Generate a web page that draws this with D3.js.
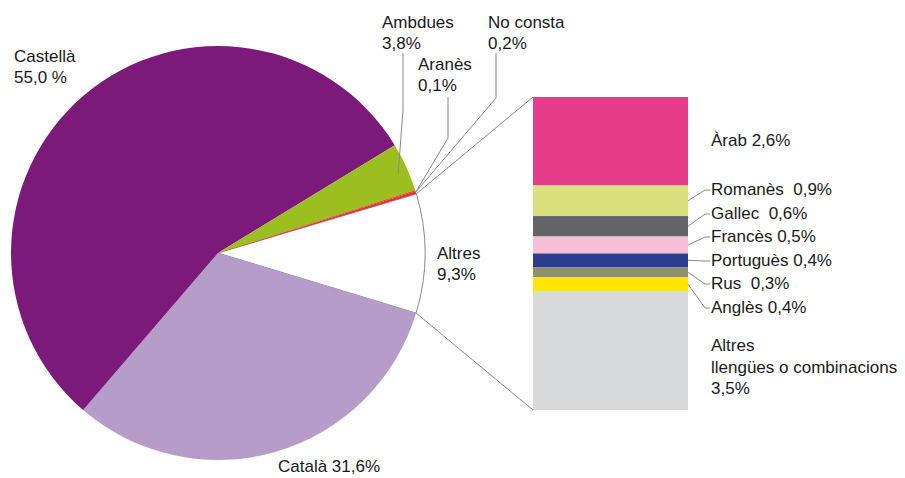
<!DOCTYPE html>
<html><head><meta charset="utf-8">
<script src="https://cdn.jsdelivr.net/npm/d3@7"></script>
<style>body{margin:0;background:#fff}svg{display:block}text{font-family:"Liberation Sans",Arial,sans-serif;font-size:17px;fill:#1a1a1a}</style>
</head><body><svg id="c" width="905" height="478"></svg>
<script>
const pieNames = ["Altres","Català","Castellà","Ambdues","Aranès","No consta"];
const pieValues = [9.3, 31.6, 55.0, 3.8, 0.1, 0.2];
const pieColors = ["#ffffff","#b69cc8","#7b1a78","#9bbf1f","#e8312f","#e8312f"];
const barNames = ["Àrab","Romanès","Gallec","Francès","Portuguès","Rus","Anglès","Altres llengües o combinacions"];
const barValues = [2.6, 0.9, 0.6, 0.5, 0.4, 0.3, 0.4, 3.5];
const barColors = ["#e63d8b","#dbe07f","#636466","#f5bfd6","#2b3d8f","#8c916a","#ffe500","#d8d9db"];

const svg = d3.select("#c");
const cx = 218, cy = 253, R = 207;
const startA = (73.4) * Math.PI / 180;
const pie = d3.pie().sort(null).value(d => d).startAngle(startA).endAngle(startA + 2 * Math.PI);
const arcs = pie(pieValues);
const arc = d3.arc().innerRadius(0).outerRadius(R);
const g = svg.append("g").attr("transform", `translate(${cx},${cy})`);
g.selectAll("path").data(arcs).join("path")
  .attr("d", arc)
  .attr("fill", (d, i) => pieColors[i])
  .attr("stroke", (d, i) => i === 0 ? "#8a8a8a" : "none")
  .attr("stroke-width", 1);
const pt = (a, r) => [cx + r * Math.sin(a), cy - r * Math.cos(a)];

// bar of pie
const bx0 = 533, bx1 = 688;
const total = d3.sum(barValues);
const y = d3.scaleLinear().domain([0, total]).range([97, 410]);
let cum = 0;
const segs = barValues.map((v, i) => { const s = {i, v, y0: y(cum), y1: y(cum + v)}; cum += v; return s; });
svg.selectAll("rect.seg").data(segs).join("rect")
  .attr("x", bx0).attr("width", bx1 - bx0)
  .attr("y", d => d.y0).attr("height", d => d.y1 - d.y0)
  .attr("fill", d => barColors[d.i]);

const line = (pts) => svg.append("path").attr("d", d3.line()(pts)).attr("fill", "none").attr("stroke", "#8a8a8a").attr("stroke-width", 1);
// connectors
const pA = pt(arcs[0].startAngle, R), pB = pt(arcs[0].endAngle, R);
line([pA, [bx0, y(0)]]);
line([pB, [bx0, y(total)]]);

// pie leader lines
const redPt = pt((arcs[4].startAngle + arcs[5].endAngle) / 2, R);
const ambPt = pt((arcs[3].startAngle * 0.45 + arcs[3].endAngle * 0.55), R - 10);
line([[403, 53], [403, 110], ambPt]);
line([[448, 97], [448, 138], redPt]);
line([[496, 53], [496, 98], redPt]);

// pie labels
const lbl = (x, yy, lines) => {
  const t = svg.append("text").attr("x", x).attr("y", yy);
  lines.forEach((s, k) => t.append("tspan").attr("x", x).attr("dy", k ? 21 : 0).text(s));
};
const fmt = v => d3.format(".1f")(v).replace(".", ",");
lbl(14, 62, [pieNames[2], fmt(pieValues[2]) + " %"]);
lbl(382, 28, [pieNames[3], fmt(pieValues[3]) + "%"]);
lbl(418, 70, [pieNames[4], fmt(pieValues[4]) + "%"]);
lbl(488, 28, [pieNames[5], fmt(pieValues[5]) + "%"]);
lbl(437, 259, [pieNames[0], fmt(pieValues[0]) + "%"]);
lbl(278, 472, [pieNames[1] + " " + fmt(pieValues[1]) + "%"]);

// bar labels
lbl(711, 146, [barNames[0] + " " + fmt(barValues[0]) + "%"]);
const small = [1, 2, 3, 4, 5, 6];
const textY = [195, 219, 242, 266, 289, 313];
const sep = ["  ", "  ", " ", " ", "  ", " "];
small.forEach((i, k) => {
  const s = segs[i];
  const ym = (s.y0 + s.y1) / 2;
  const ly = textY[k] - 5;
  line([[bx1, ym], [705, ly], [710, ly]]);
  svg.append("text").attr("x", 711).attr("y", textY[k]).style("white-space", "pre").attr("xml:space", "preserve")
    .text(barNames[i] + sep[k] + fmt(barValues[i]) + "%");
});
const t = svg.append("text").attr("x", 711).attr("y", 351);
["Altres", "llengües o combinacions", fmt(barValues[7]) + "%"].forEach((s, k) =>
  t.append("tspan").attr("x", 711).attr("dy", k ? 21.5 : 0).text(s));
</script></body></html>
